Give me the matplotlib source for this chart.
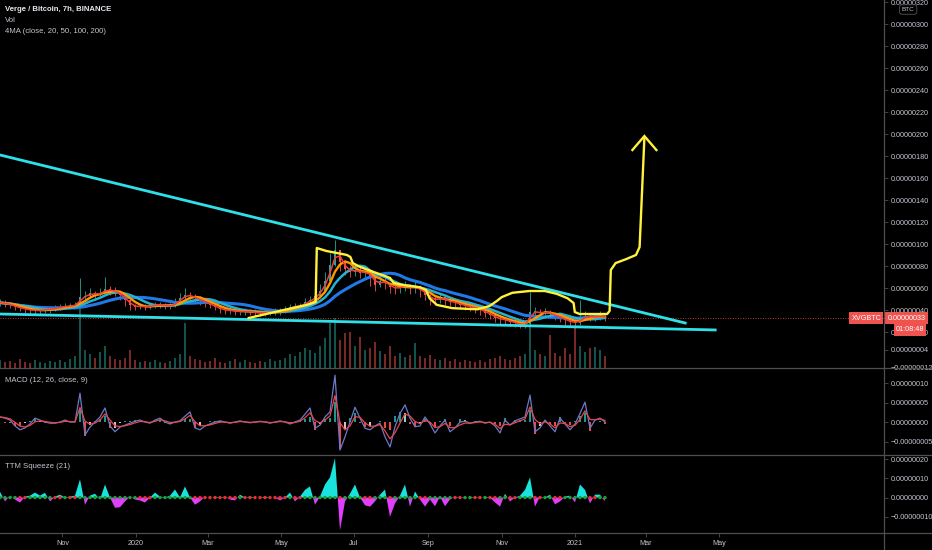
import matplotlib
matplotlib.use("Agg")
import matplotlib.pyplot as plt
import matplotlib.dates as mdates
from matplotlib.lines import Line2D
import numpy as np
import pandas as pd

plt.rcParams["font.family"] = ["Liberation Sans", "DejaVu Sans"]

# XVG/BTC, prices in satoshi (1e-8 BTC), one bar every 100h from 2019-09-10
close_sats = [
    47, 46, 45, 43, 42, 41, 40, 40, 40, 41,
    41, 42, 43, 44, 44, 45, 52, 53, 56, 54,
    56, 59, 58, 57, 54, 49, 45, 43, 44, 43,
    44, 45, 45, 44, 44, 47, 51, 54, 53, 51,
    49, 47, 45, 43, 41, 40, 40, 39, 39, 39,
    38.6, 38, 37.6, 38, 38.6, 39, 39, 41, 43, 44,
    44, 47.6, 49, 53, 58, 67, 81, 95, 84, 78,
    75, 77, 74, 75, 71, 63, 67, 65, 61, 60,
    61, 63, 60, 61, 58.5, 54, 51, 49, 52, 49,
    47.6, 47, 45, 44, 43, 42, 40, 38, 36, 33,
    32, 31, 29.5, 28.6, 26.7, 27.6, 38.6, 38.6, 37.6, 38.6,
    36.7, 35, 33, 31, 29.5, 28.6, 32, 35, 34, 34,
    35, 33,
]
high_sats = [
    50, 49, 48, 46, 45, 44, 43, 43, 43, 44,
    44, 45, 46, 47, 47, 48, 69, 58, 60, 58,
    60, 70, 62, 61, 58, 54, 48, 46, 47, 46,
    47, 48, 48, 47, 47, 51, 56, 60, 57, 55,
    53, 50, 48, 46, 44, 43, 43, 42, 42, 42,
    41, 41, 40, 41, 42, 42, 42, 44, 46, 47,
    47, 51, 53, 58, 64, 75, 92, 104, 93, 84,
    80, 82, 79, 80, 77, 70, 71, 70, 66, 64,
    65, 67, 64, 68, 63, 59, 55, 53, 56, 53,
    51, 50, 48, 47, 46, 45, 44, 42, 40, 37,
    35, 34, 33, 32, 30, 31, 57, 43, 41, 42,
    40, 38, 36, 34, 33, 32, 49, 39, 38, 38,
    39, 37,
]
low_sats = [
    44, 43, 42, 40, 39, 38, 37, 37, 37, 38,
    38, 39, 40, 41, 41, 42, 44, 49, 51, 50,
    52, 54, 54, 53, 49, 44, 40, 40, 41, 40,
    41, 42, 42, 41, 41, 43, 46, 49, 49, 47,
    45, 43, 42, 40, 38, 37, 37, 36, 36, 36,
    35.5, 35, 35, 35, 35.5, 36, 36, 38, 40, 41,
    41, 44, 46, 49, 54, 62, 72, 80, 76, 72,
    70, 71, 69, 69, 62, 58, 61, 59, 56, 55,
    56, 58, 55, 56, 52, 49, 45, 45, 47, 45,
    44, 43, 41, 40, 39, 38, 36, 34, 32, 29,
    28, 27, 26, 25, 24, 24, 27, 34, 33, 34,
    33, 31, 29, 27, 25.5, 24, 27, 31, 30, 30,
    31, 30,
]
volume = [
    8, 6, 7, 5, 9, 6, 5, 8, 6, 5,
    7, 6, 8, 6, 9, 12, 70, 18, 14, 10,
    16, 22, 12, 9, 8, 10, 18, 8, 6, 7,
    6, 8, 6, 5, 7, 10, 14, 45, 12, 9,
    8, 6, 7, 10, 6, 5, 7, 9, 6, 8,
    6, 5, 7, 6, 9, 7, 8, 10, 14, 12,
    16, 20, 18, 15, 22, 30, 45, 50, 28, 35,
    36, 22, 31, 18, 20, 26, 17, 14, 22, 12,
    15, 11, 13, 25, 12, 10, 13, 9, 8, 10,
    7, 9, 6, 8, 7, 6, 8, 6, 9, 10,
    12, 9, 8, 10, 12, 14, 41, 18, 14, 12,
    33, 15, 12, 20, 14, 40, 22, 16, 20, 21,
    18, 12,
]
macd_sats = [
    1.3, 1, 0.5, -1, -2, -1.5, -0.5, 1, 0.5, 0,
    -0.3, -0.3, 0, 0.5, 0, 0, 7.4, -3.3, -1.3, 0,
    1.3, 3.6, -1, -2.5, -1.3, -0.8, -0.3, 0.2, 0.5, 0,
    -0.3, 0.5, 1, 0, -0.5, 0, 0.3, 1.5, 2.6, -1.5,
    -2, -1, -0.5, 0, 0.3, 0, -0.3, 0, 0.3, 0,
    -0.2, 0, 0.2, 0, -0.3, 0, 0.3, 0, -0.5, 0,
    0.5, 2, 3.6, -1.6, -0.8, 1.3, 2.6, 12, -7.2, -3.8,
    0, 3.8, 1, -1.6, -2, -1, -0.3, -3.8, -6.4, -1.2,
    2.2, 4.4, 1, -1.2, -1, 1.3, -0.5, -2.8, -1, 0.5,
    -2.5, -1.5, 0, 0.2, -0.3, 0, 0.2, -0.3, 0, -1,
    -2.8, 0.5, -0.8, 0.3, 0.8, 1.3, 6.9, -2.5, -1.5, 0.5,
    -1, -2.5, 1, -0.5, -2, -0.5, 2.2, 5.1, -1.6, 0.5,
    1, 0,
]
ttm_sats = [
    3, -2, 1, -1, -2.6, 0.5, 1, 2.6, 1, 2.5,
    -2, 0.5, 1.5, 0, 0.5, 1, 9.5, -3.7, 1, 2,
    -1, 6.8, 0, -5.3, -5, -2, 0.5, -1, -1.5, -2.6,
    0, 2.6, 0.5, 0, 1, 4.2, 0, 5.8, 0, -3.7,
    -2, 0.5, -0.5, 0.5, 0, 0.5, -1, -1.5, 1.5, 0,
    0.5, 0, 0, 0.5, 0, 0, -1.5, 0, 2.6, -2,
    0.5, 4, 5.8, -3.7, 0.5, 6.8, 10.5, 20.5, -17, -2,
    2, 6.8, 0, -4, -4.7, -2, 1.5, 4.2, -10, -3,
    1, 6.8, -4.7, 3.2, -1, -4.7, -1, -4.5, 0.5, -4.5,
    -1, 0.5, 0, -0.5, 0.5, 0, -0.5, 0.5, 0, -2.5,
    -4.7, 2, -2, 0, 1, 4, 10.5, -4.7, 0.5, 0,
    1.5, -3.5, -2, 0.5, 1, -2.5, 6.8, 4, -3, 1.5,
    1.5, -2,
]
squeeze_on = [
    0, 0, 0, 0, 1, 1, 0, 0, 0, 0,
    0, 1, 1, 0, 1, 1, 0, 0, 0, 0,
    0, 0, 0, 0, 0, 0, 0, 0, 1, 1,
    1, 0, 0, 0, 0, 0, 0, 0, 0, 1,
    1, 1, 1, 1, 1, 1, 1, 1, 0, 1,
    1, 1, 1, 1, 1, 1, 1, 1, 0, 1,
    1, 0, 0, 0, 0, 0, 0, 0, 1, 0,
    0, 0, 0, 1, 1, 0, 0, 0, 1, 0,
    0, 0, 0, 0, 1, 1, 0, 0, 0, 0,
    0, 1, 1, 0, 0, 1, 1, 0, 1, 1,
    0, 0, 1, 1, 0, 0, 0, 1, 1, 0,
    0, 1, 1, 0, 0, 0, 0, 0, 1, 1,
    0, 0,
]

ma_periods = [200, 100, 50, 20]
ma_colors = ["#2179e8", "#23b4d4", "#ff9800", "#f23c3c"]
ma_widths = [2.2, 1.8, 1.7, 1.1]

# drawn trendlines and the yellow projection
upper_line_dates = ["2019-09-10", "2021-04-03"]
upper_line_sats = [181.3, 28.5]
lower_line_dates = ["2019-09-10", "2021-04-28"]
lower_line_sats = [36.7, 22.2]
yellow_dates = [
    "2020-04-04", "2020-04-30", "2020-05-23", "2020-05-30", "2020-05-31",
    "2020-06-08", "2020-06-25", "2020-06-28", "2020-06-30", "2020-07-06",
    "2020-07-17", "2020-07-25", "2020-07-31", "2020-08-03", "2020-08-11",
    "2020-08-25", "2020-08-30", "2020-09-02", "2020-09-08", "2020-09-21",
    "2020-10-12", "2020-10-22", "2020-10-28", "2020-11-01", "2020-11-10",
    "2020-11-24", "2020-12-07", "2020-12-17", "2020-12-26", "2020-12-31",
    "2021-01-01", "2021-01-05", "2021-01-28", "2021-01-30", "2021-01-31",
    "2021-02-04", "2021-02-13", "2021-02-21", "2021-02-24", "2021-02-28",
]
yellow_sats = [
    33, 39.5, 45, 47.6, 96.7, 94, 90.4, 88.5, 83, 79.5,
    75, 72, 69.5, 65, 63, 61, 58.5, 51, 45, 42,
    41, 44, 48.5, 52, 56, 57.6, 57.6, 55, 51, 46.7,
    38.5, 36.7, 36.7, 39.5, 76.7, 83, 86.7, 90.4, 97.6, 197,
]
arrow_dates = ["2021-02-18", "2021-02-28", "2021-03-10"]
arrow_sats = [185.8, 198.5, 185.8]

month_tick_dates = ["2019-11-01", "2020-01-01", "2020-03-01", "2020-05-01", "2020-07-01",
                    "2020-09-01", "2020-11-01", "2021-01-01", "2021-03-01", "2021-05-01"]
month_tick_labels = ["Nov", "2020", "Mar", "May", "Jul", "Sep", "Nov", "2021", "Mar", "May"]

price_ticks = [320, 300, 280, 260, 240, 220, 200, 180, 160, 140, 120, 100, 80, 60, 40, 20, 4, -12]
macd_ticks = [10, 5, 0, -5]
ttm_ticks = [20, 10, 0, -10]

TEXT = "#c3c6cf"
GRID = "#4e4e4e"
UP = "#26a69a"
DOWN = "#ef5350"
FS = 5.2


def sats_label(v, pos=None):
    s = f"{abs(v) / 1e8:.8f}"
    return "\u2212" + s if v < -1e-9 else s


bar_dates = pd.date_range("2019-09-10", periods=len(close_sats), freq="100h")
xd = mdates.date2num(bar_dates)
close = np.array(close_sats, dtype=float)
open_ = np.r_[close[0], close[:-1]]
up = close >= open_
bar_colors = np.where(up, UP, DOWN)

x_left = mdates.date2num(pd.Timestamp("2019-09-10"))
x_right = mdates.date2num(pd.Timestamp("2021-09-15 16:00"))

fig = plt.figure(figsize=(9.32, 5.5), dpi=100)
fig.patch.set_facecolor("black")


def style_y(ax):
    ax.yaxis.tick_right()
    ax.tick_params(axis="y", colors=GRID, labelcolor=TEXT, labelsize=FS,
                   length=3, width=0.6, pad=2)


def make_pane(rect, ylim, ticks):
    ax = fig.add_axes(rect)
    ax.set_facecolor("none")
    for s in ax.spines.values():
        s.set_visible(False)
    ax.set_xlim(x_left, x_right)
    ax.set_ylim(*ylim)
    ax.set_yticks(ticks)
    ax.yaxis.set_major_formatter(plt.FuncFormatter(sats_label))
    style_y(ax)
    ax.tick_params(axis="x", bottom=False, labelbottom=False)
    return ax


ax = make_pane([0, 0.3309, 0.9485, 0.6691], (-12.4, 322.2), price_ticks)
ax_macd = make_pane([0, 0.1727, 0.9485, 0.1564], (-8.46, 13.6), macd_ticks)
ax_ttm = make_pane([0, 0.0309, 0.9485, 0.1418], (-18.4, 22.1), ttm_ticks)

# volume, behind the price
ax_vol = ax.twinx()
ax_vol.set_zorder(ax.get_zorder() - 1)
ax_vol.set_facecolor("none")
for s in ax_vol.spines.values():
    s.set_visible(False)
ax_vol.set_ylim(0, 368)
ax_vol.set_yticks([])
ax_vol.bar(xd, volume, width=2.0, color=bar_colors, alpha=0.5, linewidth=0)
style_y(ax)

# candles
ax.vlines(xd, low_sats, high_sats, colors=bar_colors, linewidth=0.6, zorder=2)
body = np.maximum(np.abs(close - open_), 0.6)
ax.bar(xd, body, bottom=np.minimum(open_, close), width=2.4, color=bar_colors,
       linewidth=0, zorder=2)

# moving averages
close_series = pd.Series(close, index=bar_dates)
for p, c, w in zip(ma_periods, ma_colors, ma_widths):
    ma = close_series.rolling(f"{p * 7}h").mean()
    ax.plot(bar_dates, ma.values, color=c, lw=w, zorder=3, solid_capstyle="round")

# trendlines and drawing
ax.plot(pd.to_datetime(upper_line_dates), upper_line_sats, color="#2fe0e8", lw=2.0, zorder=4)
ax.plot(pd.to_datetime(lower_line_dates), lower_line_sats, color="#2fe0e8", lw=2.0, zorder=4)
ax.plot(pd.to_datetime(yellow_dates), yellow_sats, color="#fff23a", lw=1.7, zorder=5,
        solid_joinstyle="round", solid_capstyle="round")
ax.plot(pd.to_datetime(arrow_dates), arrow_sats, color="#fff23a", lw=1.7, zorder=5,
        solid_joinstyle="miter")

# last price line and labels
last = close_sats[-1]
ax.axhline(last, color=DOWN, lw=0.6, ls=(0, (1, 2)), zorder=1)
label_box = dict(boxstyle="square,pad=0.3", fc=DOWN, ec="none")
ax.annotate(sats_label(last), xy=(1, last), xycoords=("axes fraction", "data"),
            xytext=(2.5, 0), textcoords="offset points", ha="left", va="center",
            fontsize=FS, color="white", annotation_clip=False, zorder=10, bbox=label_box)
ax.annotate("XVGBTC", xy=(1, last), xycoords=("axes fraction", "data"),
            xytext=(-2, 0), textcoords="offset points", ha="right", va="center",
            fontsize=FS, color="white", annotation_clip=False, zorder=10, bbox=label_box)
ax.annotate("01:08:48", xy=(1, last), xycoords=("axes fraction", "data"),
            xytext=(8.5, -8.5), textcoords="offset points", ha="left", va="center",
            fontsize=FS, color="white", annotation_clip=False, zorder=10, bbox=label_box)

# MACD
macd = pd.Series(macd_sats, dtype=float)
signal = macd.ewm(span=3, adjust=False).mean()
hist = macd - signal
prev = hist.shift(1).fillna(0)
hist_colors = np.where(hist >= 0,
                       np.where(hist >= prev, "#26a69a", "#b2dfdb"),
                       np.where(hist < prev, "#ff5252", "#ffcdd2"))
ax_macd.bar(xd, hist, width=2.2, color=hist_colors, linewidth=0, alpha=0.9)
ax_macd.plot(bar_dates, macd.values, color="#6f78c8", lw=0.9)
ax_macd.plot(bar_dates, signal.values, color="#e5484d", lw=0.9)

# TTM squeeze
ttm = np.array(ttm_sats, dtype=float)
ax_ttm.fill_between(bar_dates, 0, ttm, where=ttm >= 0, interpolate=True,
                    color="#19e3dd", linewidth=0)
ax_ttm.fill_between(bar_dates, 0, ttm, where=ttm < 0, interpolate=True,
                    color="#e040fb", linewidth=0)
dot_colors = np.where(np.array(squeeze_on) == 1, "#e53030", "#1f9e3a")
ax_ttm.scatter(bar_dates, np.zeros(len(ttm)), c=dot_colors, s=6, marker="o",
               linewidths=0, zorder=3)

# x axis
ax_ttm.set_xticks(mdates.date2num(pd.to_datetime(month_tick_dates)))
ax_ttm.set_xticklabels(month_tick_labels)
ax_ttm.tick_params(axis="x", bottom=True, labelbottom=True, colors=GRID,
                   labelcolor=TEXT, labelsize=FS, length=3, width=0.6, pad=2)

# pane separators and price scale border
for a in (ax, ax_macd, ax_ttm):
    y0 = a.get_position().y0
    fig.add_artist(Line2D([0, 1], [y0, y0], color=GRID, lw=0.9, transform=fig.transFigure))
x_axis = ax.get_position().x1
fig.add_artist(Line2D([x_axis, x_axis], [0, 1], color=GRID, lw=0.9, transform=fig.transFigure))

# legends
fig.text(0.005, 1 - 9.5 / 550, "Verge / Bitcoin, 7h, BINANCE", color="#e6e8ee",
         fontsize=5.6, va="center", ha="left", weight="bold")
fig.text(0.005, 1 - 20.5 / 550, "Vol", color=TEXT, fontsize=5.6, va="center", ha="left")
fig.text(0.005, 1 - 31.5 / 550, "4MA (close, 20, 50, 100, 200)", color=TEXT,
         fontsize=5.6, va="center", ha="left")
fig.text(0.005, 1 - 380 / 550, "MACD (12, 26, close, 9)", color=TEXT,
         fontsize=5.6, va="center", ha="left")
fig.text(0.005, 1 - 466 / 550, "TTM Squeeze (21)", color=TEXT,
         fontsize=5.6, va="center", ha="left")
fig.text(0.9745, 1 - 9.5 / 550, "BTC", color=TEXT, fontsize=4.6, va="center", ha="center",
         bbox=dict(boxstyle="round,pad=0.35", fc="black", ec="#555555", lw=0.6))

fig.savefig("out.png", dpi=100, facecolor="black")
